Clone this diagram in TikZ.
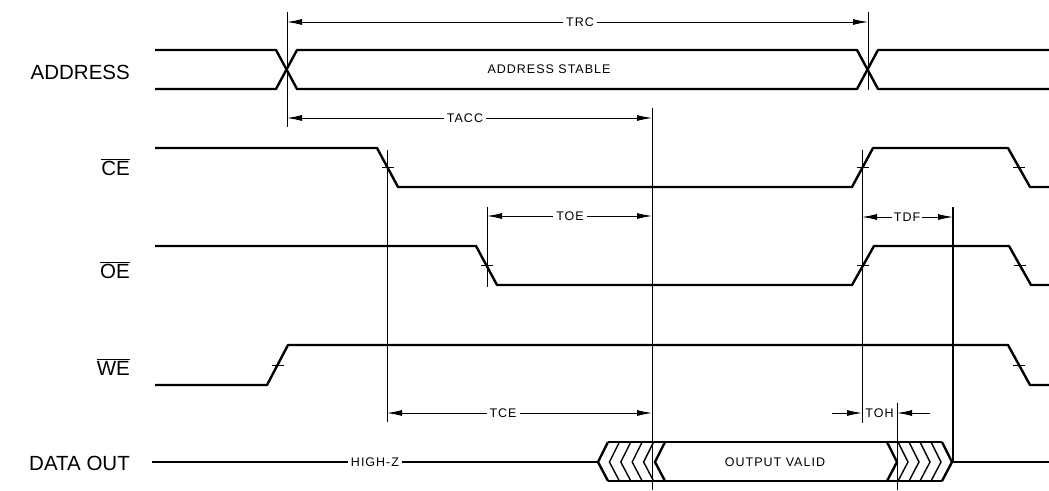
\documentclass[tikz,border=0pt]{standalone}
\usepackage{fontspec}
\setmainfont{Liberation Sans}
\newfontfamily\techfont[LetterSpace=8]{Liberation Sans}
\usetikzlibrary{arrows.meta}
\begin{document}
\begin{tikzpicture}[x=1pt,y=-1pt,
  sig/.style={line width=2.4pt, line join=round},
  hatch/.style={line width=1.4pt},
  tick/.style={line width=0.9pt},
  vline/.style={line width=0.9pt},
  dim/.style={line width=0.9pt, {Latex[length=15pt,width=6pt]}-{Latex[length=15pt,width=6pt]}},
  dimr/.style={line width=0.9pt, -{Latex[length=15pt,width=6pt]}},
  siglabel/.style={anchor=base east, inner sep=0pt, font=\fontsize{20.5}{24}\selectfont},
  small/.style={fill=white, inner sep=3pt, font=\techfont\fontsize{12.5}{14}\selectfont},
  smallnf/.style={inner sep=1pt, font=\techfont\fontsize{12.5}{14}\selectfont}]
\useasboundingbox (0,0) rectangle (1049,490);

% signal names
\node[siglabel] (lADDR) at (130,79) {ADDRESS};
\node[siglabel] (lCE) at (130,175) {$\overline{\mbox{CE}}$};
\node[siglabel] (lOE) at (130,278) {$\overline{\mbox{OE}}$};
\node[siglabel] (lWE) at (130,375) {$\overline{\mbox{WE}}$};
\node[siglabel] (lDO) at (130,470) {DATA OUT};

% key coordinates
\coordinate (a1top) at (287,12);
\coordinate (a1bot) at (287,127);
\coordinate (a2top) at (868,12);
\coordinate (a2bot) at (868,90);
\coordinate (accTop) at (652,108);
\coordinate (accBot) at (652,490);
\coordinate (ceTop) at (387,150);
\coordinate (ceBot) at (387,422);
\coordinate (oeTop) at (487,207);
\coordinate (oeBot) at (487,287);
\coordinate (ce2Top) at (862,150);
\coordinate (ce2Bot) at (862,423);
\coordinate (dfTop) at (953,207);
\coordinate (dfBot) at (953,462);
\coordinate (ohTop) at (897,403);
\coordinate (ohBot) at (897,490);

% vertical reference lines
\draw[vline] (a1top) -- (a1bot);
\draw[vline] (a2top) -- (a2bot);
\draw[vline] (accTop) -- (accBot);
\draw[vline] (ceTop) -- (ceBot);
\draw[vline] (oeTop) -- (oeBot);
\draw[vline] (ce2Top) -- (ce2Bot);
\draw[line width=1.3pt] (dfTop) -- (dfBot);
\draw[vline] (ohTop) -- (ohBot);

% ADDRESS
\draw[sig] (155,50) -- (276,50) -- (297,89) -- (857,89) -- (878,50) -- (1049,50);
\draw[sig] (155,89) -- (276,89) -- (297,50) -- (857,50) -- (878,89) -- (1049,89);
\node[smallnf] (addrStable) at (549,69) {ADDRESS STABLE};

% CE
\draw[sig] (155,148) -- (377,148) -- (398,187) -- (852,187) -- (873,148) -- (1008,148) -- (1030,187) -- (1049,187);
% OE
\draw[sig] (155,246) -- (476,246) -- (497,285) -- (852,285) -- (874,246) -- (1009,246) -- (1031,285) -- (1049,285);
% WE
\draw[sig] (155,385) -- (267,385) -- (288,345) -- (1008,345) -- (1030,385) -- (1049,385);

% transition ticks
\foreach \x/\y in {387.5/167.5, 862.5/167.5, 1019/167.5, 486.5/265.5, 863/265.5, 1020/265.5, 277.5/365, 1019/365}
  \draw[tick] (\x-6,\y) -- (\x+6,\y);

% DATA OUT
\draw[sig] (152,462) -- (598,462);
\node[small] (hz) at (375,462) {HIGH-Z};
\draw[sig] (608,442) -- (942,442);
\draw[sig] (608,481) -- (942,481);
\draw[sig] (608,442) -- (598,462) -- (608,481);
\draw[sig] (942,442) -- (952,462) -- (942,481);
\draw[sig] (952,462) -- (1049,462);
\draw[sig] (665,442) -- (655,462) -- (665,481);
\draw[sig] (887,442) -- (897,462) -- (887,481);
\foreach \t in {609.4,620.8,632.2,643.6}
  \draw[hatch] (\t+10,442) -- (\t,462) -- (\t+10,481);
\foreach \t in {908,919,930,941}
  \draw[hatch] (\t-10,442) -- (\t,462) -- (\t-10,481);
\node[smallnf] (valid) at (775,462) {OUTPUT VALID};

% dimension arrows
\coordinate (trcL) at (287,22);  \coordinate (trcR) at (868,22);
\draw[dim] (trcL) -- (trcR);
\node[small] (trc) at (580,22) {TRC};

\coordinate (accL) at (287,118); \coordinate (accR) at (652,118);
\draw[dim] (accL) -- (accR);
\node[small] (tacc) at (465,118) {TACC};

\coordinate (oeL) at (487,216); \coordinate (oeR) at (652,216);
\draw[dim] (oeL) -- (oeR);
\node[small] (toe) at (570,216) {TOE};

\coordinate (dfL) at (862,217); \coordinate (dfR) at (953,217);
\draw[dim] (dfL) -- (dfR);
\node[small, inner sep=2pt] (tdf) at (907,217) {TDF};

\coordinate (ceL) at (387,413); \coordinate (ceR) at (652,413);
\draw[dim] (ceL) -- (ceR);
\node[small] (tce) at (503,413) {TCE};

\coordinate (ohA) at (832,413); \coordinate (ohB) at (862,413);
\coordinate (ohC) at (930,413); \coordinate (ohD) at (897,413);
\draw[dimr] (ohA) -- (ohB);
\draw[dimr] (ohC) -- (ohD);
\node[smallnf] (toh) at (879.5,413) {TOH};
\end{tikzpicture}
\end{document}
